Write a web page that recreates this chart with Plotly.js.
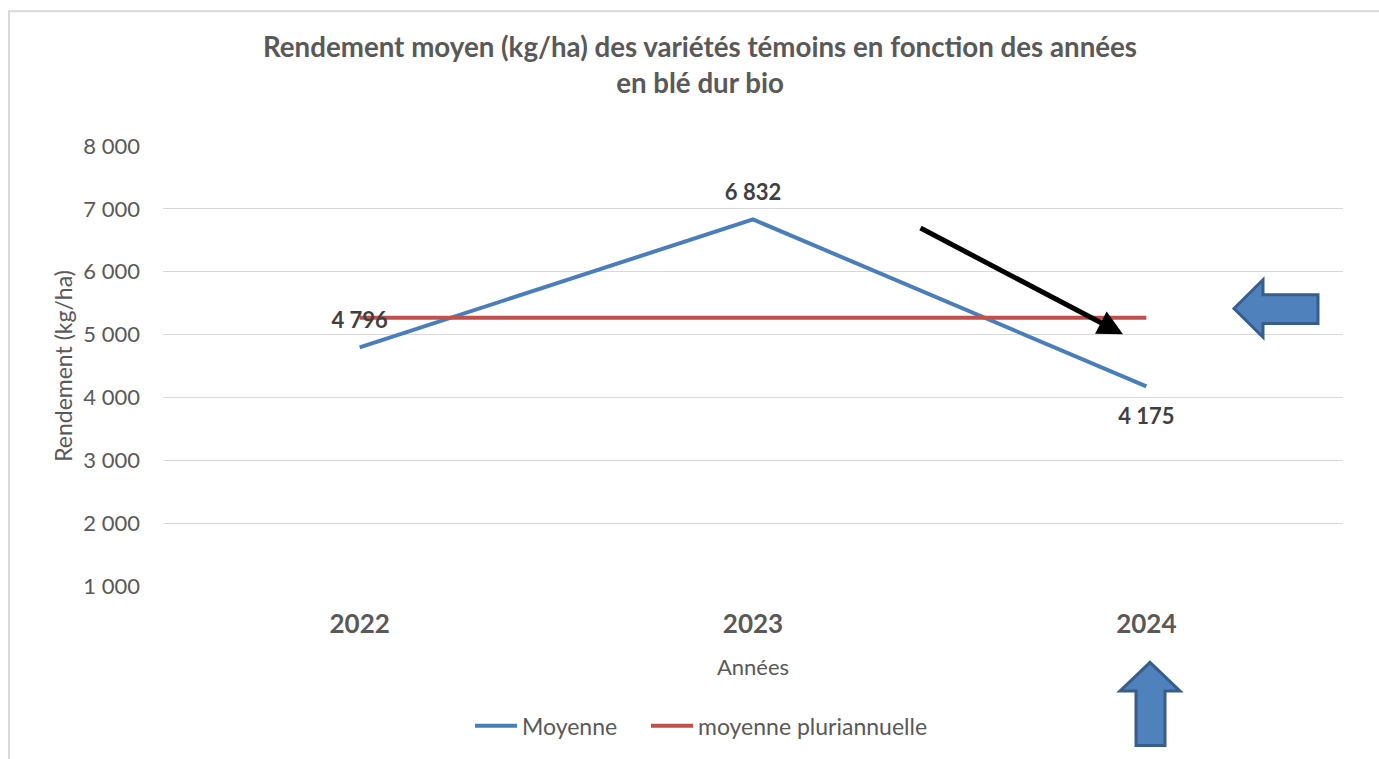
<!DOCTYPE html>
<html>
<head>
<meta charset="utf-8">
<script src="https://cdn.plot.ly/plotly-3.0.1.min.js"></script>
<style>html,body{margin:0;padding:0;background:#fff;}#chart{width:1379px;height:759px;}</style>
</head>
<body>
<div id="chart"></div>
<script>
const years = ['2022', '2023', '2024'];
const moyenne = [4796, 6832, 4175];
const moyennePluri = [5268, 5268, 5268];
const labelPositions = ['top center', 'top center', 'bottom center'];
const yTicks = [1000, 2000, 3000, 4000, 5000, 6000, 7000, 8000];

const FONT = 'Lato, "Open Sans", sans-serif';
const W = 1379, H = 759;
const L = 163, R = 36, T = 146, B = 169;
const pw = W - L - R, ph = H - T - B;
const px = v => (v - L) / pw;
const py = v => (H - B - v) / ph;
function pathFrom(pts) {
  return 'M' + pts.map(p => px(p[0]).toFixed(5) + ',' + py(p[1]).toFixed(5)).join(' L') + ' Z';
}

const fmt = v => String(v).replace(/\B(?=(\d{3})+(?!\d))/g, ' ');

const traces = [
  {
    x: years, y: moyenne, type: 'scatter', mode: 'lines', name: 'Moyenne',
    line: {color: '#4a7ebb', width: 4}, hoverinfo: 'skip', legend: 'legend'
  },
  {
    x: years, y: moyennePluri, type: 'scatter', mode: 'lines', name: 'moyenne pluriannuelle',
    line: {color: '#c0504d', width: 4}, hoverinfo: 'skip', legend: 'legend2'
  },
  {
    x: years, y: moyenne, type: 'scatter', mode: 'markers+text', showlegend: false,
    text: moyenne.map(fmt), textposition: labelPositions,
    textfont: {family: FONT, size: 22, color: '#404040', weight: 'bold'},
    marker: {size: [20, 20, 32], color: 'rgba(0,0,0,0)', opacity: 0, line: {width: 0}},
    cliponaxis: false, hoverinfo: 'skip'
  }
];

const annotations = [{
  xref: 'paper', yref: 'paper', x: px(1123), y: py(336),
  axref: 'pixel', ayref: 'pixel', ax: -204, ay: -107,
  showarrow: true, arrowhead: 2, arrowsize: 1, arrowwidth: 5, arrowcolor: '#000000', text: ''
}];

const shapes = [
  {type: 'path', xref: 'paper', yref: 'paper', path: 'M' + px(9) + ',' + py(780) + ' L' + px(9) + ',' + py(10) + ' L' + px(1400) + ',' + py(10),
   line: {color: '#d9d9d9', width: 2}, fillcolor: 'rgba(0,0,0,0)'},
  {type: 'path', xref: 'paper', yref: 'paper', layer: 'above',
   path: pathFrom([[1234, 310], [1263, 281], [1263, 296], [1318, 296], [1318, 325], [1263, 325], [1263, 339]]),
   fillcolor: '#4f81bd', line: {color: '#385d8a', width: 3}},
  {type: 'path', xref: 'paper', yref: 'paper', layer: 'above',
   path: pathFrom([[1150, 667], [1180, 696], [1165, 696], [1165, 751], [1136, 751], [1136, 696], [1120, 696]]),
   fillcolor: '#4f81bd', line: {color: '#385d8a', width: 3}}
];

const legendBase = {
  orientation: 'h', xanchor: 'left', y: py(731), yanchor: 'middle',
  font: {family: FONT, size: 23, color: '#595959'}, bgcolor: 'rgba(0,0,0,0)', itemwidth: 42
};

const layout = {
  width: W, height: H,
  margin: {l: L, r: R, t: T, b: B},
  paper_bgcolor: '#ffffff', plot_bgcolor: '#ffffff',
  separators: ', ',
  font: {family: FONT, color: '#595959'},
  title: {
    text: 'Rendement moyen (kg/ha) des variétés témoins en fonction des années<br>en blé dur bio',
    font: {family: FONT, size: 27.7, color: '#595959', weight: 'bold'},
    xref: 'container', x: 700 / W, xanchor: 'center',
    yref: 'container', y: 1 - 57 / H, yanchor: 'top'
  },
  xaxis: {
    type: 'category', range: [-0.5, 2.5], showgrid: false, zeroline: false,
    showline: false, ticks: '', ticklabelstandoff: 20,
    tickfont: {family: FONT, size: 26, color: '#595959', weight: 'bold'},
    title: {text: 'Années', font: {family: FONT, size: 22, color: '#595959'}, standoff: 21}
  },
  yaxis: {
    range: [1000, 8000], tickvals: yTicks, ticktext: yTicks.map(fmt),
    showgrid: true, gridcolor: '#d9d9d9', gridwidth: 1, zeroline: false,
    showline: false, ticks: '', ticklabelstandoff: 22,
    tickfont: {family: FONT, size: 22, color: '#595959'},
    title: {text: 'Rendement (kg/ha)', font: {family: FONT, size: 23, color: '#595959'}, standoff: 4}
  },
  showlegend: true,
  legend: Object.assign({}, legendBase, {x: px(476 - 6)}),
  legend2: Object.assign({}, legendBase, {x: px(652 - 6)}),
  annotations: annotations,
  shapes: shapes
};

Plotly.newPlot('chart', traces, layout, {displayModeBar: false, staticPlot: true});
</script>
</body>
</html>
